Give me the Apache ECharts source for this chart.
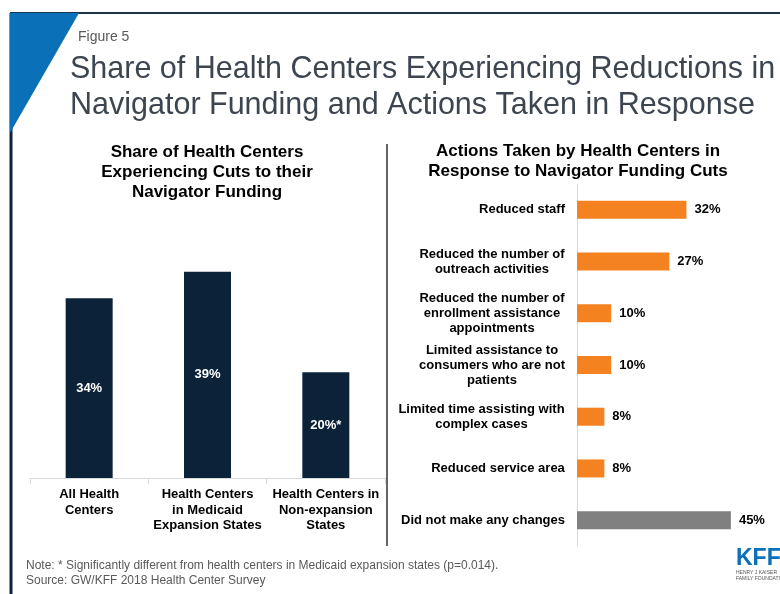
<!DOCTYPE html>
<html>
<head>
<meta charset="utf-8">
<script src="https://cdn.jsdelivr.net/npm/echarts@6/dist/echarts.min.js"></script>
<style>
  html, body { margin: 0; padding: 0; background: #fff; }
  #chart { width: 780px; height: 594px; }
</style>
</head>
<body>
<div id="chart"></div>
<script>
// left panel data
var groupNames = ["All Health\nCenters", "Health Centers\nin Medicaid\nExpansion States", "Health Centers in\nNon-expansion\nStates"];
var groupShares = [34, 39, 20];
var groupLabels = ["34%", "39%", "20%*"];

// right panel data
var actionNames = [
  "Reduced staff",
  "Reduced the number of\noutreach activities",
  "Reduced the number of\nenrollment assistance\nappointments",
  "Limited assistance to\nconsumers who are not\npatients",
  "Limited time assisting with\ncomplex cases",
  "Reduced service area",
  "Did not make any changes"
];
var actionShares = [32, 27, 10, 10, 8, 8, 45];

var font = "Liberation Sans, Arial, sans-serif";
var navy = "#0b2239";
var orange = "#f58220";
var grey = "#808080";

// right-hand labels: block sits right of the axis, lines centred inside it
var ctx = document.createElement("canvas").getContext("2d");
ctx.font = "bold 13px " + font;
var actionRich = {};
actionNames.forEach(function (name, i) {
  var w = 0;
  name.split("\n").forEach(function (line) {
    w = Math.max(w, ctx.measureText(line).width);
  });
  actionRich["r" + i] = {
    width: Math.ceil(w),
    align: "center",
    color: "#000",
    fontWeight: "bold",
    fontSize: 13,
    lineHeight: 15
  };
});

var chart = echarts.init(document.getElementById("chart"));

chart.setOption({
  backgroundColor: "#fff",
  animation: false,
  textStyle: { fontFamily: font },
  grid: [
    { left: 30, width: 355, top: 240, height: 238 },
    { left: 577, width: 171, top: 184, height: 362 }
  ],
  xAxis: [
    {
      gridIndex: 0,
      type: "category",
      data: groupNames,
      axisLine: { lineStyle: { color: "#d9d9d9" } },
      axisTick: { show: true, length: 6, lineStyle: { color: "#d9d9d9" } },
      axisLabel: {
        interval: 0,
        color: "#000",
        fontWeight: "bold",
        fontSize: 13,
        lineHeight: 15.5,
        margin: 9
      }
    },
    {
      gridIndex: 1,
      type: "value",
      min: 0,
      max: 50,
      show: false
    }
  ],
  yAxis: [
    {
      gridIndex: 0,
      type: "value",
      min: 0,
      max: 45,
      show: false
    },
    {
      gridIndex: 1,
      type: "category",
      inverse: true,
      data: actionNames,
      axisLine: { lineStyle: { color: "#d9d9d9" } },
      axisTick: { show: false },
      axisLabel: {
        interval: 0,
        margin: 12,
        formatter: function (value, index) {
          return value.split("\n").map(function (line) {
            return "{r" + index + "|" + line + "}";
          }).join("\n");
        },
        rich: actionRich
      }
    }
  ],
  series: [
    {
      type: "bar",
      xAxisIndex: 0,
      yAxisIndex: 0,
      data: groupShares,
      barWidth: 47,
      itemStyle: { color: navy },
      label: {
        show: true,
        position: "inside",
        color: "#fff",
        fontWeight: "bold",
        fontSize: 13,
        formatter: function (p) { return groupLabels[p.dataIndex]; }
      }
    },
    {
      type: "bar",
      xAxisIndex: 1,
      yAxisIndex: 1,
      data: actionShares.map(function (v, i) {
        return { value: v, itemStyle: { color: i === actionShares.length - 1 ? grey : orange } };
      }),
      barWidth: 18,
      label: {
        show: true,
        position: "right",
        distance: 8,
        color: "#000",
        fontWeight: "bold",
        fontSize: 13,
        formatter: "{c}%"
      }
    }
  ],
  graphic: [
    // frame
    { type: "line", shape: { x1: 10, y1: 13, x2: 780, y2: 13 }, style: { stroke: "#1d3349", lineWidth: 2 } },
    { type: "line", shape: { x1: 11, y1: 13, x2: 11, y2: 594 }, style: { stroke: "#0b2239", lineWidth: 3 } },
    { type: "polygon", shape: { points: [[10, 13], [79, 13], [10, 133]] }, style: { fill: "#0a70b8" } },
    // divider
    { type: "line", shape: { x1: 387, y1: 144, x2: 387, y2: 546 }, style: { stroke: "#333", lineWidth: 1.5 } },
    // headings
    { type: "text", x: 78, y: 30, style: { text: "Figure 5", font: "14px " + font, fill: "#595959" } },
    { type: "text", x: 70, y: 52, style: { text: "Share of Health Centers Experiencing Reductions in\nNavigator Funding and Actions Taken in Response", font: "30.5px " + font, lineHeight: 36, fill: "#3d4650" } },
    { type: "text", x: 207, y: 142, style: { text: "Share of Health Centers\nExperiencing Cuts to their\nNavigator Funding", font: "bold 17px " + font, lineHeight: 20, fill: "#000", align: "center" } },
    { type: "text", x: 578, y: 141, style: { text: "Actions Taken by Health Centers in\nResponse to Navigator Funding Cuts", font: "bold 17px " + font, lineHeight: 20, fill: "#000", align: "center" } },
    // notes
    { type: "text", x: 26, y: 558, style: { text: "Note: * Significantly different from health centers in Medicaid expansion states (p=0.014).\nSource: GW/KFF 2018 Health Center Survey", font: "12px " + font, lineHeight: 15, fill: "#595959" } },
    // logo
    { type: "text", x: 736, y: 547, style: { text: "KFF", font: "bold 23px " + font, fill: "#0a70b8" } },
    { type: "text", x: 736, y: 570, style: { text: "HENRY J KAISER\nFAMILY FOUNDATION", font: "5px " + font, lineHeight: 6, fill: "#555" } }
  ]
});
</script>
</body>
</html>
